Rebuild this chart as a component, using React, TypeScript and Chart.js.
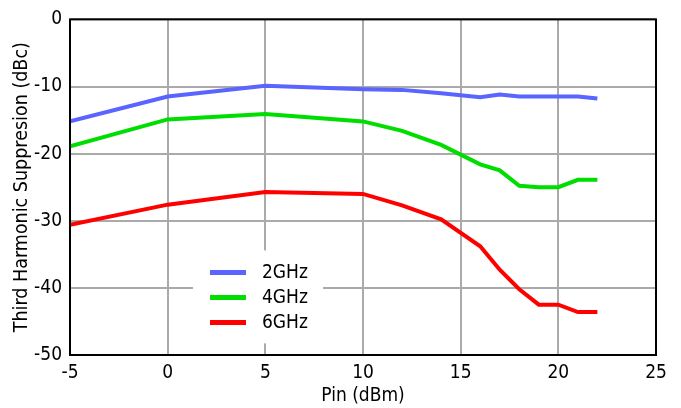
import React, { useEffect, useRef } from "react";
import { Chart, registerables } from "chart.js";

Chart.register(...registerables);

const pin = [-5, 0, 5, 10, 12, 14, 16, 17, 18, 19, 20, 21, 22];
const s2GHz = [-15.2, -11.5, -9.9, -10.4, -10.5, -11.0, -11.6, -11.2, -11.5, -11.5, -11.5, -11.5, -11.8];
const s4GHz = [-18.9, -14.9, -14.1, -15.2, -16.6, -18.7, -21.6, -22.5, -24.8, -25.0, -25.0, -23.9, -23.9];
const s6GHz = [-30.6, -27.6, -25.7, -26.0, -27.7, -29.8, -33.8, -37.3, -40.2, -42.5, -42.5, -43.6, -43.6];
const seriesLabels = ["2GHz", "4GHz", "6GHz"];
const seriesColors = ["#5a64ff", "#00dd00", "#ff0000"];

const FONT = "'DejaVu Sans Condensed', 'DejaVu Sans', sans-serif";

const legendPlugin = {
  id: "boxLegend",
  afterDraw(chart: any) {
    const { ctx, chartArea } = chart;
    ctx.save();
    ctx.strokeStyle = "#000";
    ctx.lineWidth = 2;
    ctx.strokeRect(chartArea.left, chartArea.top, chartArea.right - chartArea.left, chartArea.bottom - chartArea.top);
    const bx = chartArea.left + 123;
    const by = chartArea.top + 231;
    const bw = 130;
    const bh = 93;
    ctx.fillStyle = "#fff";
    ctx.fillRect(bx, by, bw, bh);
    ctx.font = `19px ${FONT}`;
    ctx.textBaseline = "middle";
    ctx.textAlign = "left";
    chart.data.datasets.forEach((ds: any, i: number) => {
      const y = by + 22 + i * 25;
      ctx.strokeStyle = ds.borderColor;
      ctx.lineWidth = 5;
      ctx.beginPath();
      ctx.moveTo(bx + 17, y);
      ctx.lineTo(bx + 53, y);
      ctx.stroke();
      ctx.fillStyle = "#000";
      ctx.fillText(ds.label, bx + 69, y + 1);
    });
    ctx.restore();
  },
};

export default function App() {
  const ref = useRef<HTMLCanvasElement>(null);
  useEffect(() => {
    document.body.style.margin = "0";
    const series = [s2GHz, s4GHz, s6GHz];
    const chart = new Chart(ref.current!, {
      type: "line",
      data: {
        datasets: series.map((s, i) => ({
          label: seriesLabels[i],
          data: pin.map((x, j) => ({ x, y: s[j] })),
          borderColor: seriesColors[i],
          backgroundColor: seriesColors[i],
          borderWidth: 4,
          pointRadius: 0,
          tension: 0,
          fill: false,
        })),
      },
      options: {
        animation: false,
        responsive: false,
        maintainAspectRatio: false,
        layout: { padding: { top: 17, right: 25, left: 0, bottom: 0 } },
        plugins: { legend: { display: false }, tooltip: { enabled: false } },
        scales: {
          x: {
            type: "linear",
            min: -5,
            max: 25,
            ticks: { stepSize: 5, color: "#000", font: { family: FONT, size: 19 }, padding: 7, maxRotation: 0 },
            grid: { color: "#aaaaaa", lineWidth: 2, drawTicks: false },
            border: { display: false },
            title: { display: true, text: "Pin (dBm)", color: "#000", font: { family: FONT, size: 19 }, padding: { top: 0, bottom: 1 } },
            afterFit: (scale: any) => { scale.height = 53; },
          },
          y: {
            type: "linear",
            min: -50,
            max: 0,
            ticks: { stepSize: 10, color: "#000", font: { family: FONT, size: 19 }, padding: 8 },
            grid: { color: "#aaaaaa", lineWidth: 2, drawTicks: false },
            border: { display: false },
            title: { display: true, text: "Third Harmonic Suppresion (dBc)", color: "#000", font: { family: FONT, size: 19.5 }, padding: { top: 10, bottom: 0 } },
            afterFit: (scale: any) => { scale.width = 70; },
          },
        },
      },
      plugins: [legendPlugin],
    });
    return () => chart.destroy();
  }, []);
  return (
    <div style={{ width: 681, height: 408 }}>
      <canvas ref={ref} width={681} height={408} style={{ display: "block" }} />
    </div>
  );
}
